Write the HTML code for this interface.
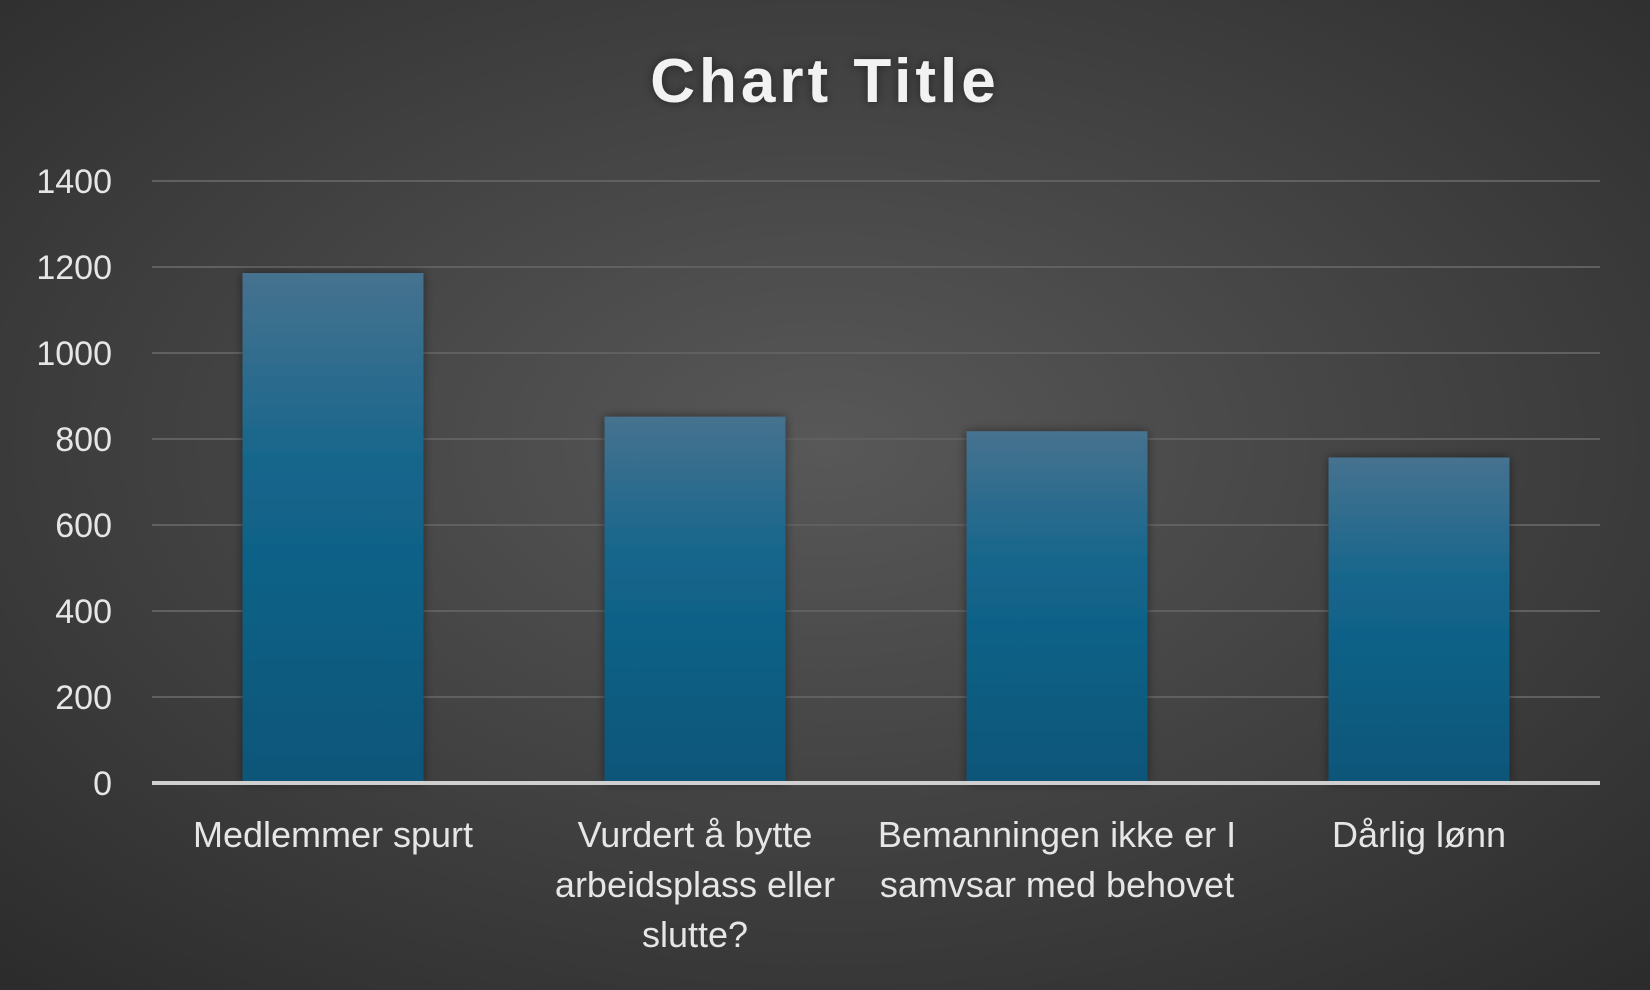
<!DOCTYPE html>
<html>
<head>
<meta charset="utf-8">
<style>
  html,body{margin:0;padding:0;}
  body{width:1650px;height:990px;overflow:hidden;
    background:radial-gradient(ellipse 75% 75% at 50% 45%, #585858 0%, #444 45%, #2b2b2b 100%);
    font-family:"Liberation Sans","DejaVu Sans",sans-serif;}
  svg{display:block;}
</style>
</head>
<body>
<svg id="chart" width="1650" height="990" viewBox="0 0 1650 990">
  <defs>
    <linearGradient id="barGrad" x1="0" y1="0" x2="0" y2="1">
      <stop offset="0" stop-color="#46728f"/>
      <stop offset="0.4" stop-color="#13658c"/>
      <stop offset="1" stop-color="#0a5679"/>
    </linearGradient>
    <filter id="shadow" x="-20%" y="-20%" width="140%" height="140%">
      <feDropShadow dx="0" dy="0" stdDeviation="5" flood-color="#000" flood-opacity="0.45"/>
    </filter>
  </defs>
  <text x="825" y="102" text-anchor="middle" font-size="62" font-weight="bold" fill="#f2f2f2" letter-spacing="4" filter="url(#shadow)">Chart Title</text>
  <g id="grid"></g>
  <g id="bars"></g>
  <g id="labels"></g>
</svg>
<script>
const categories = [["Medlemmer spurt"],["Vurdert å bytte","arbeidsplass eller","slutte?"],["Bemanningen ikke er I","samvsar med behovet"],["Dårlig lønn"]];
const values = [1186, 852, 818, 757];
const ticks = [0,200,400,600,800,1000,1200,1400];

const NS="http://www.w3.org/2000/svg";
const left=152,right=1600,y0=783,yTop=181,maxV=1400;
const yScale=v=>y0-(v/maxV)*(y0-yTop);
const slot=(right-left)/categories.length;
const xCenter=i=>left+slot*(i+0.5);
const barW=slot*0.5;
const svg=document.getElementById('chart');
const grid=document.getElementById('grid'),bars=document.getElementById('bars'),labels=document.getElementById('labels');
function mk(tag,attrs){const e=document.createElementNS(NS,tag);for(const k in attrs)e.setAttribute(k,attrs[k]);return e;}

ticks.forEach(t=>{
  if(t>0){
    const l=mk('line',{x1:left,x2:right,y1:yScale(t),y2:yScale(t),stroke:'#606060','stroke-width':2});
    
    
    grid.appendChild(l);
  }
  const tx=mk('text',{x:112,y:yScale(t)+12,'text-anchor':'end','font-size':34,fill:'#e6e6e6'});
  tx.textContent=t;
  
  
  grid.appendChild(tx);
});

values.forEach((v,i)=>{
  const r=mk('rect',{x:xCenter(i)-barW/2,y:yScale(v),width:barW,height:y0-yScale(v),fill:'url(#barGrad)',filter:'url(#shadow)'});
  
  
  bars.appendChild(r);
});

const axis=mk('line',{x1:left,x2:right,y1:y0,y2:y0,stroke:'#cfcfcf','stroke-width':4});


svg.appendChild(axis);

categories.forEach((lines,i)=>{
  const t=mk('text',{x:xCenter(i),y:847,'text-anchor':'middle','font-size':36,fill:'#e6e6e6'});
  
  
  lines.forEach((ln,j)=>{
    const s=mk('tspan',{x:xCenter(i),dy:j===0?0:50});
    s.textContent=ln;
    t.appendChild(s);
  });
  labels.appendChild(t);
});
</script>
</body>
</html>
